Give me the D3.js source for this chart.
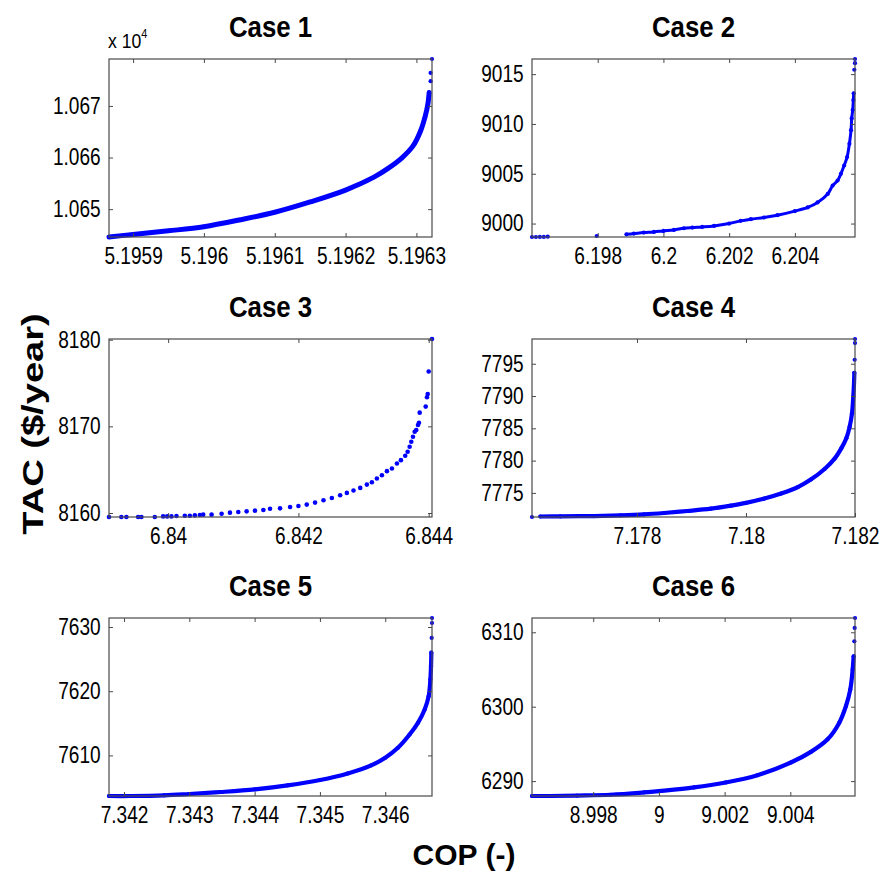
<!DOCTYPE html>
<html>
<head>
<meta charset="utf-8">
<script src="https://cdn.jsdelivr.net/npm/d3@7"></script>
<style>
  body { margin: 0; background: #fff; }
  svg text { font-family: "Liberation Sans", Arial, Helvetica, sans-serif; fill: #000; }
</style>
</head>
<body>
<svg id="chart" width="881" height="888"></svg>
<script>
// COP vs TAC pareto fronts

const caseTitles = ['Case 1', 'Case 2', 'Case 3', 'Case 4', 'Case 5', 'Case 6'];

// case 1
const case1BandCop = [5.195866, 5.1959, 5.19595, 5.1960, 5.19605, 5.1961, 5.19615, 5.1962, 5.19624, 5.19626, 5.19628, 5.196295, 5.196306, 5.196312, 5.196316, 5.196318];
const case1BandTac = [10644.6, 10645.1, 10645.8, 10646.6, 10647.9, 10649.4, 10651.4, 10653.7, 10656.2, 10657.9, 10660.0, 10662.2, 10665.2, 10667.8, 10670.2, 10672.6];
const case1DotCop = [5.19632, 5.19632, 5.196322];
const case1DotTac = [10674.8, 10676.4, 10679.1];

// case 2
const case2BandCop = [6.198874, 6.1991, 6.1994, 6.19971, 6.2000, 6.20032, 6.20062, 6.20088, 6.20118, 6.20154, 6.2020, 6.20235, 6.20266, 6.20306, 6.20347, 6.2040, 6.20439, 6.20469, 6.20500, 6.20515, 6.20530, 6.20540, 6.20550, 6.20559, 6.20566, 6.20571, 6.20573, 6.20576, 6.20578, 6.20579];
const case2BandTac = [8998.92, 8998.99, 8999.09, 8999.16, 8999.26, 8999.36, 8999.53, 8999.60, 8999.66, 8999.76, 9000.0, 9000.27, 9000.44, 9000.61, 9000.84, 9001.25, 9001.62, 9002.12, 9002.97, 9003.81, 9004.32, 9004.99, 9005.83, 9006.68, 9008.02, 9009.37, 9010.55, 9011.4, 9012.4, 9013.08];
const case2DotCop = [6.19600, 6.19612, 6.19624, 6.19636, 6.19648, 6.19797, 6.20581, 6.20583, 6.20583];
const case2DotTac = [8998.65, 8998.65, 8998.66, 8998.66, 8998.68, 8998.75, 9015.44, 9016.1, 9016.52];

// case 3 (sparse, dots only)
const case3BandCop = [];
const case3BandTac = [];
const case3DotCop = [6.839092, 6.839282, 6.839359, 6.839539, 6.83959, 6.839795, 6.839923, 6.839985, 6.840051, 6.840128, 6.840256, 6.840333, 6.84041, 6.840487, 6.840538, 6.840667, 6.840821, 6.840949, 6.841077, 6.841205, 6.841333, 6.841462, 6.841564, 6.841718, 6.841872, 6.842, 6.842128, 6.842256, 6.842385, 6.842513, 6.842641, 6.842744, 6.842846, 6.842949, 6.843051, 6.843128, 6.843205, 6.843282, 6.843359, 6.843436, 6.843513, 6.843574, 6.84364, 6.843677, 6.843708, 6.843733, 6.843759, 6.843785, 6.84381, 6.843836, 6.843851, 6.843862, 6.843954, 6.843974, 6.843985, 6.844, 6.844051];
const case3DotTac = [8159.54, 8159.54, 8159.54, 8159.54, 8159.54, 8159.54, 8159.61, 8159.61, 8159.61, 8159.65, 8159.69, 8159.69, 8159.73, 8159.77, 8159.81, 8159.81, 8159.92, 8160.04, 8160.12, 8160.19, 8160.27, 8160.35, 8160.5, 8160.54, 8160.69, 8160.81, 8160.97, 8161.2, 8161.47, 8161.74, 8162.05, 8162.32, 8162.59, 8162.9, 8163.28, 8163.55, 8163.98, 8164.36, 8164.83, 8165.14, 8165.71, 8166.1, 8166.6, 8167.07, 8167.64, 8168.22, 8168.8, 8169.38, 8169.58, 8170.15, 8170.42, 8171.58, 8172.28, 8173.36, 8173.74, 8176.33, 8180.08];

// case 4
const case4BandCop = [7.176227, 7.176595, 7.177209, 7.177699, 7.178129, 7.178497, 7.178926, 7.179356, 7.179724, 7.18, 7.180337, 7.180644, 7.180951, 7.181196, 7.181442, 7.181626, 7.181748, 7.181841, 7.181902, 7.181945, 7.181969, 7.181982, 7.181988];
const case4BandTac = [7771.35, 7771.37, 7771.42, 7771.53, 7771.68, 7771.89, 7772.2, 7772.56, 7773.03, 7773.45, 7774.12, 7774.9, 7775.9, 7777.1, 7778.7, 7780.3, 7781.89, 7783.45, 7785.26, 7787.33, 7789.92, 7792.0, 7793.6];
const case4DotCop = [7.176074, 7.181994, 7.182, 7.182];
const case4DotTac = [7771.27, 7795.62, 7798.2, 7798.83];

// case 5
const case5BandCop = [7.34177, 7.342102, 7.342614, 7.342997, 7.343483, 7.344005, 7.344506, 7.345003, 7.345427, 7.345785, 7.346, 7.346194, 7.346373, 7.346501, 7.346604, 7.346665, 7.346691, 7.346701, 7.346706];
const case5BandTac = [7603.68, 7603.68, 7603.78, 7603.99, 7604.3, 7604.72, 7605.34, 7606.17, 7607.2, 7608.45, 7609.64, 7611.19, 7613.26, 7615.08, 7617.15, 7619.22, 7621.81, 7623.89, 7626.0];
const case5DotCop = [7.346711, 7.346716, 7.346716];
const case5DotTac = [7628.3, 7630.62, 7631.4];

// case 6
const case6BandCop = [8.996136, 8.996695, 8.997509, 8.998526, 8.999542, 9.0, 9.001068, 9.002034, 9.003, 9.004016, 9.004627, 9.005135, 9.005491, 9.005694, 9.005826, 9.005898, 9.005928];
const case6BandTac = [6288.0, 6288.0, 6288.06, 6288.17, 6288.48, 6288.66, 6289.15, 6289.82, 6290.8, 6292.5, 6293.93, 6295.62, 6297.86, 6300.09, 6302.32, 6305.0, 6306.78];
const case6DotCop = [9.005949, 9.005959, 9.005969];
const case6DotTac = [6308.79, 6310.58, 6311.92];

// ticks
const xTicks1 = [5.1959, 5.196, 5.1961, 5.1962, 5.1963];
const xLabels1 = ['5.1959', '5.196', '5.1961', '5.1962', '5.1963'];
const yTicks1 = [10650, 10660, 10670];
const yLabels1 = ['1.065', '1.066', '1.067'];
const xTicks2 = [6.198, 6.2, 6.202, 6.204];
const xLabels2 = ['6.198', '6.2', '6.202', '6.204'];
const yTicks2 = [9000, 9005, 9010, 9015];
const yLabels2 = ['9000', '9005', '9010', '9015'];
const xTicks3 = [6.84, 6.842, 6.844];
const xLabels3 = ['6.84', '6.842', '6.844'];
const yTicks3 = [8160, 8170, 8180];
const yLabels3 = ['8160', '8170', '8180'];
const xTicks4 = [7.178, 7.18, 7.182];
const xLabels4 = ['7.178', '7.18', '7.182'];
const yTicks4 = [7775, 7780, 7785, 7790, 7795];
const yLabels4 = ['7775', '7780', '7785', '7790', '7795'];
const xTicks5 = [7.342, 7.343, 7.344, 7.345, 7.346];
const xLabels5 = ['7.342', '7.343', '7.344', '7.345', '7.346'];
const yTicks5 = [7610, 7620, 7630];
const yLabels5 = ['7610', '7620', '7630'];
const xTicks6 = [8.998, 9, 9.002, 9.004];
const xLabels6 = ['8.998', '9', '9.002', '9.004'];
const yTicks6 = [6290, 6300, 6310];
const yLabels6 = ['6290', '6300', '6310'];

const xAxisTitle = 'COP (-)';
const yAxisTitle = 'TAC ($/year)';

// build table
const zipPts = (xs, ys) => xs.map((x, i) => ({cop: x, tac: ys[i]}));
const cases = [
  [case1BandCop, case1BandTac, case1DotCop, case1DotTac, xTicks1, xLabels1, yTicks1, yLabels1],
  [case2BandCop, case2BandTac, case2DotCop, case2DotTac, xTicks2, xLabels2, yTicks2, yLabels2],
  [case3BandCop, case3BandTac, case3DotCop, case3DotTac, xTicks3, xLabels3, yTicks3, yLabels3],
  [case4BandCop, case4BandTac, case4DotCop, case4DotTac, xTicks4, xLabels4, yTicks4, yLabels4],
  [case5BandCop, case5BandTac, case5DotCop, case5DotTac, xTicks5, xLabels5, yTicks5, yLabels5],
  [case6BandCop, case6BandTac, case6DotCop, case6DotTac, xTicks6, xLabels6, yTicks6, yLabels6]
].map((c, i) => ({
  title: caseTitles[i],
  band: zipPts(c[0], c[1]),
  dots: zipPts(c[2], c[3]),
  xTicks: c[4], xLabels: c[5], yTicks: c[6], yLabels: c[7]
}));

//layout
const colLeft = [109, 532];
const rowTop = [59, 339, 618];
const w = 323;
const h = 178;
const bandWidth = [5, 3, 0, 4.2, 4.2, 4.2];
const blue = '#0000ff';
const frameColor = '#4a4a4a';

const svg = d3.select('#chart');

cases.forEach((c, i) => {
  const left = colLeft[i % 2];
  const top = rowTop[Math.floor(i / 2)];
  const all = c.band.concat(c.dots);

  const x = d3.scaleLinear()
    .domain(d3.extent(all, d => d.cop))
    .range([0, w]);
  const y = d3.scaleLinear()
    .domain(d3.extent(all, d => d.tac))
    .range([h, 0]);

  const g = svg.append('g').attr('transform', `translate(${left},${top})`);

  // title
  g.append('g')
    .attr('transform', `translate(${w / 2},-22) scale(0.89,1)`)
    .append('text')
    .attr('text-anchor', 'middle')
    .style('font-size', '29px')
    .style('font-weight', 'bold')
    .text(c.title);

  // data
  if (bandWidth[i] > 0 && c.band.length) {
    g.append('path')
      .datum(c.band)
      .attr('fill', 'none')
      .attr('stroke', blue)
      .attr('stroke-width', bandWidth[i])
      .attr('stroke-linecap', 'round')
      .attr('stroke-linejoin', 'round')
      .attr('d', d3.line()
        .curve(d3.curveCatmullRom.alpha(0.5))
        .x(d => x(d.cop))
        .y(d => y(d.tac)));
  }
  g.selectAll('.dot')
    .data(all)
    .enter()
    .append('circle')
    .attr('class', 'dot')
    .attr('cx', d => x(d.cop))
    .attr('cy', d => y(d.tac))
    .attr('r', i === 2 ? 2.3 : 2.1)
    .style('fill', blue);

  // axes, ticks pointing inward on all sides
  const styleAxis = sel => {
    sel.select('.domain').remove();
    sel.selectAll('line').attr('stroke', frameColor);
    sel.attr('font-family', null).attr('font-size', null);
    sel.selectAll('text')
      .style('font-size', '23px')
      .attr('transform', 'scale(0.83,1)');
  };

  g.append('g')
    .attr('transform', `translate(0,${h})`)
    .call(d3.axisBottom(x).tickValues(c.xTicks)
      .tickFormat((d, k) => c.xLabels[k])
      .tickSizeInner(-4).tickSizeOuter(0).tickPadding(11))
    .call(styleAxis);

  g.append('g')
    .call(d3.axisTop(x).tickValues(c.xTicks).tickFormat('')
      .tickSizeInner(-4).tickSizeOuter(0))
    .call(styleAxis);

  g.append('g')
    .call(d3.axisLeft(y).tickValues(c.yTicks)
      .tickFormat((d, k) => c.yLabels[k])
      .tickSizeInner(-4).tickSizeOuter(0).tickPadding(10))
    .call(styleAxis);

  g.append('g')
    .attr('transform', `translate(${w},0)`)
    .call(d3.axisRight(y).tickValues(c.yTicks).tickFormat('')
      .tickSizeInner(-4).tickSizeOuter(0))
    .call(styleAxis);

  g.append('rect')
    .attr('x', 0)
    .attr('y', 0)
    .attr('width', w)
    .attr('height', h)
    .attr('fill', 'none')
    .attr('stroke', frameColor)
    .attr('stroke-width', 1.2);

  // exponent note for case 1
  if (i === 0) {
    const ex = g.append('g')
      .attr('transform', 'translate(-1,-11) scale(0.84,1)')
      .append('text')
      .style('font-size', '21px');
    ex.append('tspan').text('x 10');
    ex.append('tspan').attr('dy', -10).style('font-size', '13px').text('4');
  }
});

// shared axis titles
svg.append('text')
  .attr('x', 464)
  .attr('y', 865)
  .attr('text-anchor', 'middle')
  .style('font-size', '30px')
  .style('font-weight', 'bold')
  .text(xAxisTitle);

svg.append('g')
  .attr('transform', 'translate(43,424) rotate(-90) scale(1.27,1)')
  .append('text')
  .attr('text-anchor', 'middle')
  .style('font-size', '30px')
  .style('font-weight', 'bold')
  .text(yAxisTitle);
</script>
</body>
</html>
